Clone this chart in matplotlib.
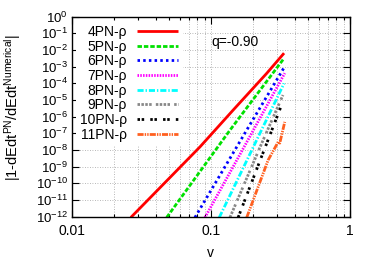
import matplotlib
matplotlib.use('Agg')
import matplotlib.pyplot as plt
from matplotlib.ticker import FixedLocator, NullLocator, NullFormatter

plt.rcParams['font.family'] = ['Liberation Sans', 'DejaVu Sans']
plt.rcParams['mathtext.fontset'] = 'custom'
plt.rcParams['mathtext.rm'] = 'Liberation Sans'
plt.rcParams['mathtext.it'] = 'Liberation Sans:italic'
plt.rcParams['font.size'] = 10

# data (v, |1 - dEdt_PN / dEdt_num|)
labels = ['4PN-ρ', '5PN-ρ', '6PN-ρ', '7PN-ρ', '8PN-ρ', '9PN-ρ', '10PN-ρ', '11PN-ρ']

v_4pn = [0.0265, 0.0834, 0.107, 0.1445, 0.252, 0.336]
e_4pn = [9e-13, 1.55e-8, 1.55e-7, 2.5e-6, 4e-4, 6.5e-3]
v_5pn = [0.048, 0.137, 0.336]
e_5pn = [9e-13, 1.55e-7, 3.2e-3]
v_6pn = [0.0767, 0.1807, 0.334]
e_6pn = [9e-13, 1.55e-7, 8.1e-4]
v_7pn = [0.0906, 0.178, 0.340]
e_7pn = [9e-13, 2.3e-8, 4.1e-4]
v_8pn = [0.1148, 0.200, 0.336]
e_8pn = [9e-13, 1.3e-8, 1e-4]
v_9pn = [0.137, 0.224, 0.330]
e_9pn = [9e-13, 1.3e-8, 2e-5]
v_10pn = [0.157, 0.224, 0.319]
e_10pn = [9e-13, 2e-9, 4e-6]
v_11pn = [0.181, 0.258, 0.305, 0.313, 0.340]
e_11pn = [9e-13, 2.5e-9, 3.1e-8, 2.6e-8, 4.9e-7]

xs = [v_4pn, v_5pn, v_6pn, v_7pn, v_8pn, v_9pn, v_10pn, v_11pn]
ys = [e_4pn, e_5pn, e_6pn, e_7pn, e_8pn, e_9pn, e_10pn, e_11pn]

colors = ['#ff0000', '#00e000', '#0000ff', '#ff00ff', '#00ffff', '#888888', '#000000', '#ff6020']
dashes = [None, (1.6, 0.7), (0.9, 1.15), (0.55, 0.45), (2.2, 0.7, 0.5, 0.7),
          (0.9, 0.5, 0.9, 0.5, 0.9, 0.5, 0.9, 1.5), (0.9, 0.6, 0.9, 2.2),
          (2.2, 0.4, 0.5, 0.4, 0.5, 0.4)]

xticks = [0.01, 0.1, 1]
xticklabels = ['0.01', '0.1', '1']
ydecades = list(range(-12, 1))

fig = plt.figure(figsize=(3.76, 2.63), dpi=100)
ax = fig.add_axes([0.1915, 0.176, 0.739, 0.7605])

for x, y, c, d, lab in zip(xs, ys, colors, dashes, labels):
    line, = ax.plot(x, y, color=c, lw=2, label=lab, solid_capstyle='butt', dash_capstyle='butt')
    if d is not None:
        line.set_dashes(d)

ax.set_xscale('log')
ax.set_yscale('log')
ax.set_xlim(0.01, 1)
ax.set_ylim(1e-12, 1)

ax.xaxis.set_major_locator(FixedLocator(xticks))
ax.set_xticklabels(xticklabels)
ax.xaxis.set_minor_locator(FixedLocator([m * 10.0 ** k for k in (-2, -1) for m in range(2, 10)]))
ax.xaxis.set_minor_formatter(NullFormatter())

ax.set_yticks([10.0 ** k for k in ydecades])
ax.set_yticklabels([r'$\mathregular{10^{%d}}$' % k for k in ydecades])
ax.yaxis.set_minor_locator(NullLocator())

ax.tick_params(which='both', direction='in', top=True, right=True, width=0.8)
ax.tick_params(which='major', length=5, pad=5)
ax.tick_params(which='minor', length=2.5)
ax.tick_params(axis='y', pad=3, labelsize=9.5)
ax.tick_params(axis='x', labelsize=10)

ax.grid(True, which='major', color='#a0a0a0', lw=0.6, ls=(0, (1, 2)))
ax.grid(True, which='minor', axis='x', color='#a0a0a0', lw=0.6, ls=(0, (1, 2)))
ax.set_axisbelow(True)
for s in ax.spines.values():
    s.set_linewidth(1.0)

ax.set_xlabel('v', labelpad=6)
ax.set_ylabel(r'|1-dEdt$^{\mathregular{PN}}$/dEdt$^{\mathregular{Numerical}}$|', fontsize=10.5)
ax.yaxis.set_label_coords(-0.175, 0.545)

ax.text(0.5, 0.873, 'q=-0.90', transform=ax.transAxes, va='center', ha='left', fontsize=10)

leg = ax.legend(loc='upper right', bbox_to_anchor=(0.398, 0.98), markerfirst=False,
                handlelength=2.95, handletextpad=0.75, labelspacing=0.05,
                borderpad=0.3, borderaxespad=0, frameon=True, fancybox=False,
                framealpha=1, edgecolor='none', facecolor='white', fontsize=10)

fig.savefig('out.png', dpi=100)
